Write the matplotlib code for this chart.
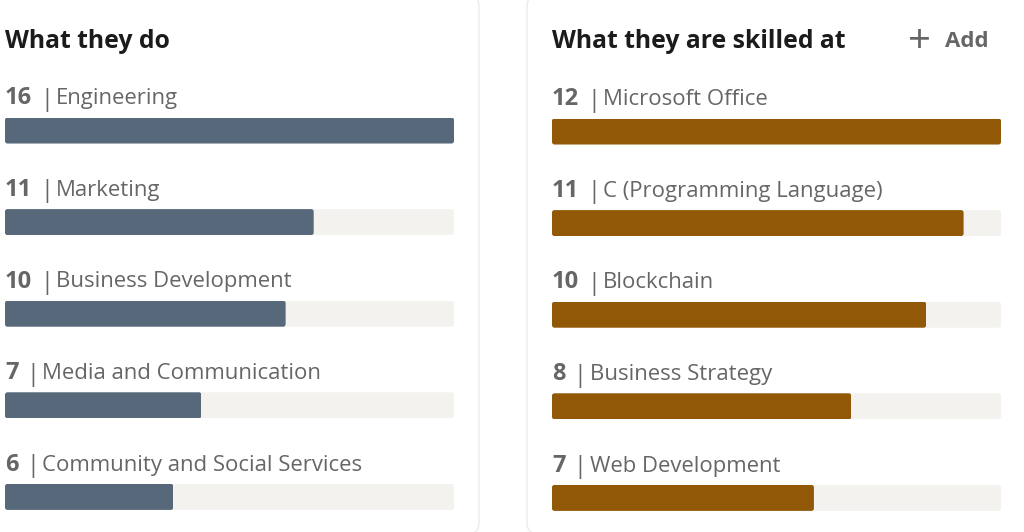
import matplotlib
matplotlib.use("Agg")
import matplotlib.pyplot as plt
from matplotlib.patches import FancyBboxPatch

left_title = "What they do"
left_categories = ["Engineering", "Marketing", "Business Development",
                   "Media and Communication", "Community and Social Services"]
left_values = [16, 11, 10, 7, 6]

right_title = "What they are skilled at"
right_categories = ["Microsoft Office", "C (Programming Language)", "Blockchain",
                    "Business Strategy", "Web Development"]
right_values = [12, 11, 10, 8, 7]

W, H = 1024, 532
FONT = "Open Sans"
TEXT = "#666666"
TITLE = "#1b1b1b"
TRACK = "#f3f2ef"
SLATE = "#56687a"
BROWN = "#915907"
BORDER = "#ebebe9"
ROW = 91.6
BAR_H = 26.0
RADIUS = 2.5
FS = 15.9

fig = plt.figure(figsize=(W / 100, H / 100), dpi=100, facecolor="white")

# overlay in pixel coordinates for cards and text
bg = fig.add_axes([0, 0, 1, 1])
bg.set_xlim(0, W)
bg.set_ylim(H, 0)
bg.axis("off")
card_top, card_bottom = -5, 534
for x0, x1 in [(-40, 479), (527, 1070)]:
    bg.add_patch(FancyBboxPatch((x0, card_top), x1 - x0, card_bottom - card_top,
                                boxstyle="round,pad=0,rounding_size=11",
                                fc="white", ec=BORDER, lw=1.0))


def panel(x0, x1, top, values, categories, color, title, title_y):
    span = ROW * 4 + BAR_H
    width = x1 - x0
    ax = fig.add_axes([x0 / W, 1 - (top + span) / H, width / W, span / H])
    ax.set_zorder(2)
    ax.patch.set_alpha(0)
    maxv = max(values)
    pos = list(range(len(values)))
    h = BAR_H / ROW
    ax.set_xlim(0, maxv)
    ax.set_ylim(len(values) - 1 + h / 2, -h / 2)
    ax.axis("off")
    xunit = maxv / width
    yunit = 1 / ROW
    for vals, col in [([maxv] * len(values), TRACK), (values, color)]:
        bars = ax.barh(pos, vals, height=h, color=col, linewidth=0)
        for bar in bars:
            # rounded corners, same geometry as the bar itself
            round_box = FancyBboxPatch(
                (bar.get_x(), bar.get_y()), bar.get_width(), bar.get_height(),
                boxstyle=f"round,pad=0,rounding_size={RADIUS * xunit}",
                mutation_aspect=yunit / xunit, transform=ax.transData)
            bar.set_clip_path(round_box)

    bg.text(x0, title_y, title, fontfamily=FONT, fontweight="bold", fontsize=17.8,
            color=TITLE, va="baseline", ha="left")
    for i, (v, c) in enumerate(zip(values, categories)):
        base = top + i * ROW - 13.2
        two = v >= 10
        bg.text(x0, base, str(v), fontfamily=FONT, fontweight="bold", fontsize=17,
                color=TEXT, va="baseline", ha="left")
        bg.text(x0 + (35.5 if two else 21), base + 1.5, "|", fontfamily=FONT, fontsize=FS + 1,
                color=TEXT, va="baseline", ha="left")
        bg.text(x0 + (51 if two else 37.5), base, c, fontfamily=FONT, fontsize=FS,
                color=TEXT, va="baseline", ha="left")


panel(5, 454, 117.5, left_values, left_categories, SLATE, left_title, 48)
panel(552, 1001, 118.5, right_values, right_categories, BROWN, right_title, 48)

bg.text(920, 38, "+", fontfamily=FONT, fontsize=29, color=TEXT, ha="center", va="center_baseline")
bg.text(945, 47, "Add", fontfamily=FONT, fontweight="bold", fontsize=16,
        color=TEXT, ha="left", va="baseline")

fig.savefig("out.png", dpi=100)
